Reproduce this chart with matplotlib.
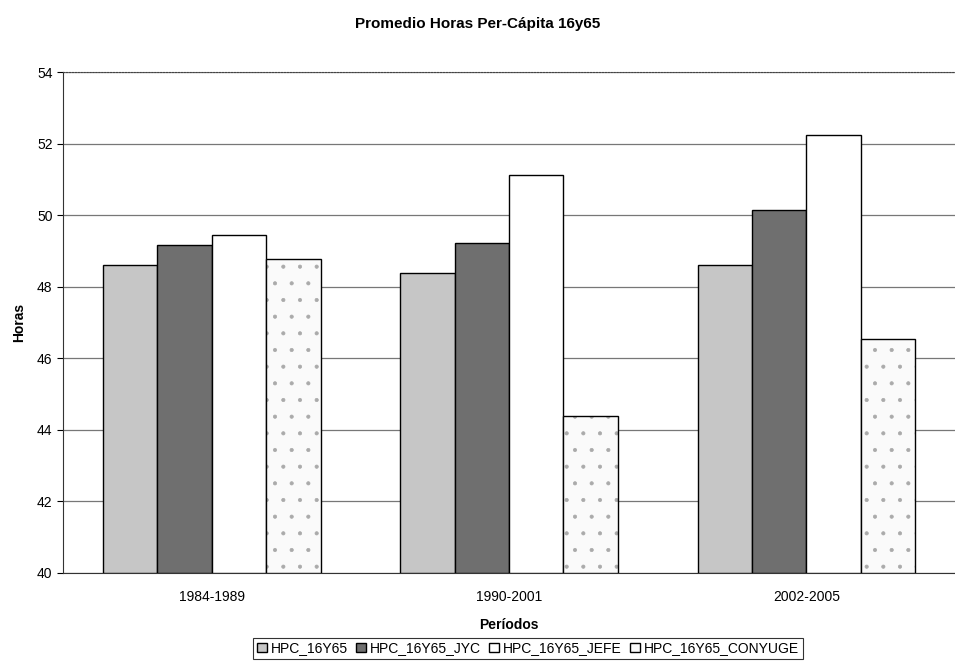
import numpy as np
import matplotlib
matplotlib.use("Agg")
import matplotlib.pyplot as plt
from matplotlib.patches import Patch

plt.rcParams['font.family'] = ['Liberation Sans', 'DejaVu Sans']
plt.rcParams['hatch.linewidth'] = 0.5

periodos = ['1984-1989', '1990-2001', '2002-2005']
series = ['HPC_16Y65', 'HPC_16Y65_JYC', 'HPC_16Y65_JEFE', 'HPC_16Y65_CONYUGE']
hpc_16y65 = [48.61, 48.37, 48.62]
hpc_jyc = [49.16, 49.21, 50.14]
hpc_jefe = [49.44, 51.12, 52.24]
hpc_conyuge = [48.77, 44.40, 46.54]

valores = [hpc_16y65, hpc_jyc, hpc_jefe, hpc_conyuge]
colores = ['#c6c6c6', '#6f6f6f', '#ffffff', '#fafafa']
hatches = ['', '', '', '.']

fig = plt.figure(figsize=(9.55, 6.67), dpi=100)
ax = fig.add_axes([0.066, 0.141, 0.934, 0.751])

x = np.arange(len(periodos))
ancho = 0.183
for i, (vals, col, h) in enumerate(zip(valores, colores, hatches)):
    pos = x + (i - 1.5) * ancho
    alto = np.array(vals) - 40
    if h:
        # faint dotted texture, drawn under the black outline
        ax.bar(pos, alto, bottom=40, width=ancho, color=col,
               edgecolor='#aaaaaa', linewidth=0, hatch=h, zorder=3)
        ax.bar(pos, alto, bottom=40, width=ancho, fill=False,
               edgecolor='black', linewidth=1.0, zorder=4)
    else:
        ax.bar(pos, alto, bottom=40, width=ancho, color=col,
               edgecolor='black', linewidth=1.0, zorder=3)

ax.set_ylim(40, 54)
ax.set_xlim(-0.5, 2.5)
ax.set_yticks(np.arange(40, 55, 2))
ax.set_xticks(x)
ax.set_xticklabels(periodos, fontsize=10)
ax.tick_params(axis='y', labelsize=10, length=4, direction='out')
ax.tick_params(axis='x', length=0, pad=12)
ax.yaxis.grid(True, color='#777777', linewidth=0.9, zorder=0)

ax.spines['right'].set_visible(False)
ax.spines['top'].set_linestyle(':')
ax.spines['top'].set_color('#444444')
ax.spines['left'].set_color('#333333')
ax.spines['bottom'].set_color('#333333')

ax.set_ylabel('Horas', fontsize=10, fontweight='bold', labelpad=8)
ax.set_xlabel('Períodos', fontsize=10, fontweight='bold', labelpad=10)
fig.suptitle('Promedio Horas Per-Cápita 16y65', fontsize=11, fontweight='bold', y=0.975)

handles = [Patch(facecolor=c, edgecolor='black', label=s)
           for c, s in zip(colores, series)]
leg = fig.legend(handles=handles, loc='lower center', ncol=4, bbox_to_anchor=(0.553, 0.002),
                 fontsize=10, frameon=True, fancybox=False, edgecolor='black',
                 handlelength=0.7, handleheight=0.7, handletextpad=0.3, columnspacing=0.6,
                 borderpad=0.25)
leg.get_frame().set_linewidth(0.8)

fig.savefig('out.png', dpi=100)
